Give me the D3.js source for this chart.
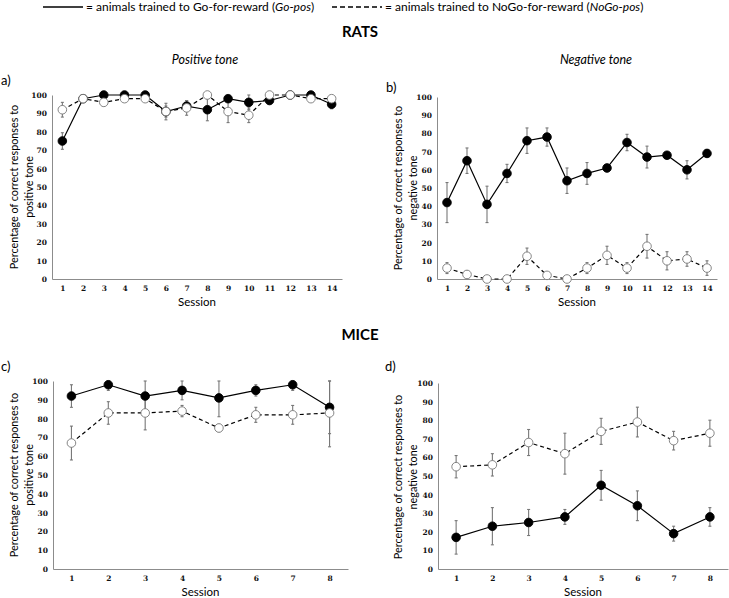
<!DOCTYPE html>
<html><head><meta charset="utf-8">
<script src="https://cdn.jsdelivr.net/npm/d3@7"></script>
<style>
body{margin:0;background:#fff;}
svg{display:block;font-family:Lato,"Open Sans",sans-serif;}
</style></head>
<body><svg id="c" width="729" height="598"></svg>
<script>
// ---- data ----
const ratSessions = ["1","2","3","4","5","6","7","8","9","10","11","12","13","14"];
const miceSessions = ["1","2","3","4","5","6","7","8"];
const yTicks = [0,10,20,30,40,50,60,70,80,90,100];

// a) rats, positive tone
const aGo = [75,98,100,100,100,91,94,92,98,96,97,100,100,95];
const aGoErr = [4.5,1,0.5,0.5,0.5,3,3,6,1,4,2,0,1,2.5];
const aNoGo = [92,98,96,98,98,91,93,100,91,89,100,100,98,98];
const aNoGoErr = [4,1,2,1,1,4.5,4,0,6,4,0,0,1,1];
// b) rats, negative tone
const bGo = [42,65,41,58,76,78,54,58,61,75,67,68,60,69];
const bGoErr = [11,7,10,5,7,5,7,6,2,4.5,6,1,5,2];
const bNoGo = [6,2.5,0,0,12.5,2,0,6,13,6,18,10,11,6];
const bNoGoErr = [3,2,0,0,4.5,1,0,3,5,3,6.5,5,4,4];
// c) mice, positive tone
const cGo = [92,98,92,95,91,95,98,86];
const cGoErr = [6,3,8,5,10,3,3,14];
const cNoGo = [67,83,83,84,75,82,82,83];
const cNoGoErr = [9,6,9,3,2,4,5,18];
// d) mice, negative tone
const dGo = [17,23,25,28,45,34,19,28];
const dGoErr = [9,10,7,4,8,8,4,5];
const dNoGo = [55,56,68,62,74,79,69,73];
const dNoGoErr = [6,6,7,11,7,8,5,7];

const svg = d3.select("#c");
const axisCol = "#8c8c8c";

// ---- legend / headers ----
const leg = svg.append("g");
leg.append("line").attr("x1",43).attr("x2",83).attr("y1",7).attr("y2",7)
  .attr("stroke","#000").attr("stroke-width",1.6);
let t1 = leg.append("text").attr("x",86).attr("y",11).attr("font-size",12);
t1.append("tspan").text("= animals trained to Go-for-reward (");
t1.append("tspan").attr("font-style","italic").text("Go-pos");
t1.append("tspan").text(")");
leg.append("line").attr("x1",332).attr("x2",382).attr("y1",7).attr("y2",7)
  .attr("stroke","#000").attr("stroke-width",1.6).attr("stroke-dasharray","5,3");
let t2 = leg.append("text").attr("x",385).attr("y",11).attr("font-size",12);
t2.append("tspan").text("= animals trained to NoGo-for-reward (");
t2.append("tspan").attr("font-style","italic").text("NoGo-pos");
t2.append("tspan").text(")");

svg.append("text").attr("x",360).attr("y",37).attr("text-anchor","middle")
  .attr("font-size",15).attr("font-weight","bold").text("RATS");
svg.append("text").attr("x",360).attr("y",340).attr("text-anchor","middle")
  .attr("font-size",15).attr("font-weight","bold").text("MICE");
svg.append("text").attr("x",205).attr("y",64).attr("text-anchor","middle")
  .attr("font-size",12.5).attr("font-style","italic").text("Positive tone");
svg.append("text").attr("x",596).attr("y",64).attr("text-anchor","middle")
  .attr("font-size",12.5).attr("font-style","italic").text("Negative tone");

// ---- panels ----
const panels = [
  {lab:"a)", lx:1, ly:85, x0:52, x1:342, yT:95, yB:279, cats:ratSessions, go:aGo, goE:aGoErr, no:aNoGo, noE:aNoGoErr,
   tl:["Percentage of correct responses to","positive tone"], tx:14, tcy:187},
  {lab:"b)", lx:386, ly:92, x0:437, x1:717, yT:97, yB:279, cats:ratSessions, go:bGo, goE:bGoErr, no:bNoGo, noE:bNoGoErr,
   tl:["Percentage of correct responses to","negative tone"], tx:398, tcy:188},
  {lab:"c)", lx:1, ly:371, x0:53, x1:348, yT:381, yB:569, cats:miceSessions, go:cGo, goE:cGoErr, no:cNoGo, noE:cNoGoErr,
   tl:["Percentage of correct responses to","positive tone"], tx:14, tcy:475},
  {lab:"d)", lx:385, ly:371, x0:438, x1:728, yT:383, yB:569, cats:miceSessions, go:dGo, goE:dGoErr, no:dNoGo, noE:dNoGoErr,
   tl:["Percentage of correct responses to","negative tone"], tx:398, tcy:477}
];

panels.forEach(p => {
  const g = svg.append("g");
  const x = d3.scalePoint().domain(p.cats).range([p.x0, p.x1]).padding(0.5);
  const y = d3.scaleLinear().domain([0,100]).range([p.yB, p.yT]);

  g.append("text").attr("x",p.lx).attr("y",p.ly).attr("font-size",13).text(p.lab);

  // axes
  const ya = g.append("g").attr("transform",`translate(${p.x0},0)`)
    .call(d3.axisLeft(y).tickValues(yTicks).tickSize(0).tickPadding(5));
  const xa = g.append("g").attr("transform",`translate(0,${p.yB})`)
    .call(d3.axisBottom(x).tickSize(0).tickPadding(7));
  [ya,xa].forEach(a => {
    a.select(".domain").attr("stroke",axisCol).attr("stroke-width",1);
    a.selectAll("text").attr("font-size",7.5).attr("font-weight","bold")
      .attr("font-family","'DejaVu Serif',serif").attr("fill","#111");
  });

  g.append("text").attr("x",(p.x0+p.x1)/2).attr("y",p.yB+27).attr("text-anchor","middle")
    .attr("font-size",11.5).text("Session");

  const tt = g.append("text").attr("transform",`translate(${p.tx+4},${p.tcy}) rotate(-90)`)
    .attr("text-anchor","middle").attr("font-size",10.8);
  tt.append("tspan").attr("x",0).attr("dy",0).text(p.tl[0]);
  tt.append("tspan").attr("x",0).attr("dy",14.5).text(p.tl[1]);

  const series = [
    {v:p.go, e:p.goE, dash:null, fill:"#000", stroke:"#000"},
    {v:p.no, e:p.noE, dash:"4,3", fill:"#fff", stroke:"#777"}
  ];
  // error bars
  series.forEach(s => {
    const eg = g.append("g").attr("stroke","#777").attr("stroke-width",1.1);
    p.cats.forEach((c,i) => {
      if (!s.e[i]) return;
      const cx = x(c);
      const lo = y(Math.max(0, s.v[i]-s.e[i])), hi = y(Math.min(100, s.v[i]+s.e[i]));
      eg.append("line").attr("x1",cx).attr("x2",cx).attr("y1",lo).attr("y2",hi);
      eg.append("line").attr("x1",cx-1.5).attr("x2",cx+1.5).attr("y1",lo).attr("y2",lo);
      eg.append("line").attr("x1",cx-1.5).attr("x2",cx+1.5).attr("y1",hi).attr("y2",hi);
    });
  });
  // lines
  series.forEach(s => {
    const line = d3.line().x((d,i)=>x(p.cats[i])).y(d=>y(d));
    g.append("path").datum(s.v).attr("d",line).attr("fill","none")
      .attr("stroke","#000").attr("stroke-width",1.2)
      .attr("stroke-dasharray",s.dash);
  });
  // markers
  series.forEach(s => {
    g.append("g").selectAll("circle").data(s.v).join("circle")
      .attr("cx",(d,i)=>x(p.cats[i])).attr("cy",d=>y(d)).attr("r",4.3)
      .attr("fill",s.fill).attr("stroke",s.stroke).attr("stroke-width",0.9);
  });
});
</script></body></html>
